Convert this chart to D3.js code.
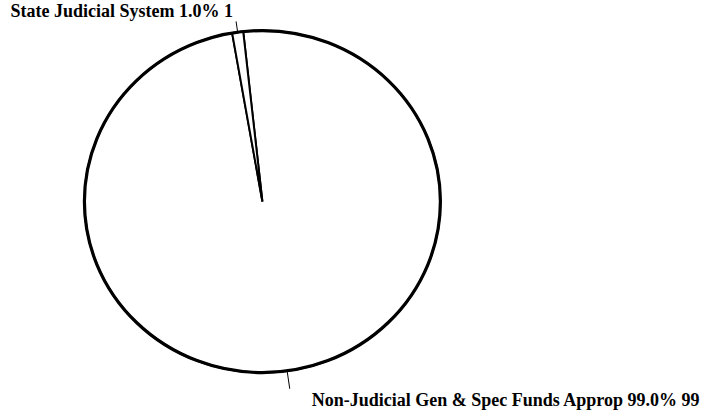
<!DOCTYPE html>
<html>
<head>
<meta charset="utf-8">
<script src="https://cdn.jsdelivr.net/npm/d3@7/dist/d3.min.js"></script>
<style>
  html, body { margin: 0; padding: 0; background: #ffffff; }
  svg { display: block; }
  .lbl { font-family: "Liberation Serif", "Times New Roman", serif; font-weight: bold; font-size: 18px; fill: #000; }
</style>
</head>
<body>
<svg id="chart" width="707" height="417"></svg>
<script>
// Funding sources and their amounts
const categories = ["Non-Judicial Gen & Spec Funds Approp", "State Judicial System"];
const values = [99, 1];

const W = 707, H = 417;
const cx = 262.4, cy = 201.6;
const rx = 178, ry = 171;           // the pie is drawn slightly wider than tall
const start = -0.108;                // first slice begins just left of twelve o'clock

const svg = d3.select("#chart");
const total = d3.sum(values);
const data = categories.map((c, i) => ({ name: c, value: values[i] }));

const pie = d3.pie().sort(null).value(d => d.value)
  .startAngle(start).endAngle(start + 2 * Math.PI);
const arcs = pie(data);
const arc = d3.arc().innerRadius(0).outerRadius(ry);

const g = svg.append("g")
  .attr("transform", `translate(${cx},${cy}) scale(${rx / ry},1)`);

g.selectAll("path.slice")
  .data(arcs)
  .join("path")
  .attr("class", "slice")
  .attr("d", arc)
  .attr("fill", "#ffffff")
  .attr("stroke", "#000")
  .attr("stroke-width", 2)
  .attr("stroke-linejoin", "miter")
  .attr("vector-effect", "non-scaling-stroke");

// heavier outline around the whole pie
g.append("circle")
  .attr("r", ry)
  .attr("fill", "none")
  .attr("stroke", "#000")
  .attr("stroke-width", 3.2)
  .attr("vector-effect", "non-scaling-stroke");

// leader lines and labels
const pt = (a, r) => [cx + r * (rx / ry) * Math.sin(a), cy - r * Math.cos(a)];

arcs.forEach(d => {
  const a = (d.startAngle + d.endAngle) / 2;
  const upper = Math.cos(a) > 0;
  const len = upper ? 11 : 18;
  const p0 = pt(a, ry);
  const p1 = pt(a, ry + len);
  svg.append("line")
    .attr("x1", p0[0]).attr("y1", p0[1])
    .attr("x2", p1[0]).attr("y2", p1[1])
    .attr("stroke", "#000").attr("stroke-width", 1);

  const pct = (d.data.value / total * 100).toFixed(1) + "%";
  const txt = `${d.data.name} ${pct} ${d.data.value}`;
  if (upper) {
    svg.append("text").attr("class", "lbl")
      .attr("text-anchor", "end")
      .attr("x", p1[0] - 3).attr("y", p1[1] - 4)
      .text(txt);
  } else {
    svg.append("text").attr("class", "lbl")
      .attr("text-anchor", "start")
      .attr("x", p1[0] + 22).attr("y", p1[1] + 17)
      .text(txt);
  }
});
</script>
</body>
</html>
